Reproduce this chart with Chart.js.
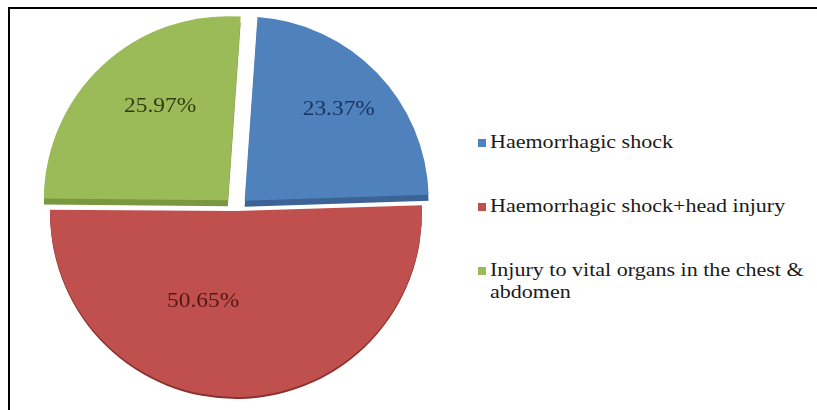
<!DOCTYPE html>
<html>
<head>
<meta charset="utf-8">
<script src="https://cdn.jsdelivr.net/npm/chart.js@4.4.1/dist/chart.umd.min.js"></script>
<style>
  html, body { margin: 0; padding: 0; background: #fff; overflow: hidden; }
  body { width: 817px; height: 410px; position: relative; font-family: "Liberation Serif", "Times New Roman", serif; }
  #frame { position: absolute; left: 8px; top: 7px; width: 830px; height: 430px; border: 2px solid #000; box-sizing: border-box; }
  #wrap { position: absolute; left: 0; top: 0; width: 472px; height: 418px; }
  #legend { position: absolute; left: 478px; top: 131px; width: 330px; font-size: 19px; color: #1a1a1a; }
  .item { position: relative; height: 22px; margin-bottom: 42px; line-height: 22px; }
  .item.two { height: 44px; }
  .sw { position: absolute; left: 0; top: 8px; width: 8px; height: 8px; }
  .tx { position: absolute; left: 12px; top: 0; width: 285px; transform: scaleX(1.16); transform-origin: 0 0; white-space: normal; }
</style>
</head>
<body>
<div id="frame"></div>
<div id="wrap"><canvas id="c" width="472" height="418"></canvas></div>
<div id="legend"></div>
<script>
const categories = ["Haemorrhagic shock", "Haemorrhagic shock+head injury", "Injury to vital organs in the chest & abdomen"];
const values = [23.37, 50.65, 25.97];
const valueLabels = ["23.37%", "50.65%", "25.97%"];

const colors = ["#4f81bd", "#c0504d", "#9bbb59"];
const sideColors = ["#3b6396", "#8a302e", "#7a9840"];
const textColors = ["#1b3461", "#581715", "#2f3d13"];
const sliceOffsets = [48, 8, 48];
const sideDepth = [6, 2, 6];
const labelRadius = [0.718, 0.484, 0.63];
const labelNudge = [[-1, 1], [-34, 2], [11, -8]];

const legend = document.getElementById('legend');
categories.forEach((name, i) => {
  const d = document.createElement('div');
  d.className = 'item' + (i === 2 ? ' two' : '');
  const s = document.createElement('span');
  s.className = 'sw';
  s.style.background = colors[i];
  const t = document.createElement('span');
  t.className = 'tx';
  t.textContent = name;
  d.appendChild(s);
  d.appendChild(t);
  legend.appendChild(d);
});

// darker copy of each slice drawn slightly lower, giving the 3D side band
const sidePlugin = {
  id: 'sliceSides',
  beforeDatasetsDraw(chart) {
    const ctx = chart.ctx;
    const meta = chart.getDatasetMeta(0);
    meta.data.forEach((arc, i) => {
      const orig = arc.options;
      arc.options = Object.assign({}, orig, { backgroundColor: sideColors[i], borderWidth: 0 });
      ctx.save();
      ctx.translate(0, sideDepth[i]);
      arc.draw(ctx);
      ctx.restore();
      arc.options = orig;
    });
  }
};

const labelPlugin = {
  id: 'sliceLabels',
  afterDatasetsDraw(chart) {
    const ctx = chart.ctx;
    const meta = chart.getDatasetMeta(0);
    meta.data.forEach((arc, i) => {
      const p = arc.getProps(['x', 'y', 'startAngle', 'endAngle', 'outerRadius'], true);
      const mid = (p.startAngle + p.endAngle) / 2;
      const t = (arc.options.offset || 0) / 4;
      const r = p.outerRadius * labelRadius[i];
      const x = p.x + Math.cos(mid) * (r + t) + labelNudge[i][0];
      const y = p.y + Math.sin(mid) * (r + t) + labelNudge[i][1];
      ctx.save();
      ctx.translate(x, y);
      ctx.scale(1.17, 1);
      ctx.font = '20px "Liberation Serif", serif';
      ctx.textAlign = 'center';
      ctx.textBaseline = 'middle';
      ctx.fillStyle = textColors[i];
      ctx.fillText(valueLabels[i], 0, 0);
      ctx.restore();
    });
  }
};

new Chart(document.getElementById('c'), {
  type: 'pie',
  data: {
    labels: categories,
    datasets: [{
      data: values,
      backgroundColor: colors,
      borderWidth: 0,
      offset: sliceOffsets
    }]
  },
  options: {
    responsive: false,
    animation: false,
    rotation: 4,
    radius: 184,
    layout: { padding: 0 },
    plugins: { legend: { display: false }, tooltip: { enabled: false } }
  },
  plugins: [sidePlugin, labelPlugin]
});
</script>
</body>
</html>
